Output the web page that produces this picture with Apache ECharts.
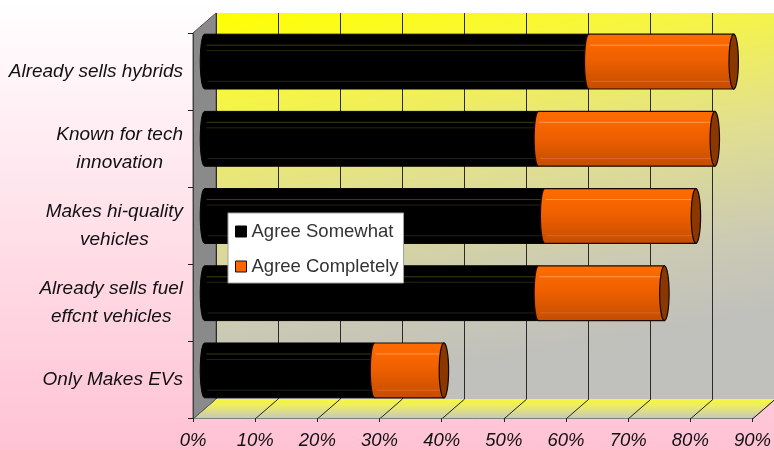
<!DOCTYPE html>
<html><head><meta charset="utf-8">
<script src="https://cdn.jsdelivr.net/npm/echarts@6/dist/echarts.min.js"></script>
<style>html,body{margin:0;padding:0;}#c{width:774px;height:450px;}</style>
</head><body><div id="c"></div>
<script>
// ---- data ----
const categories = ['Already sells hybrids', 'Known for tech\ninnovation', 'Makes hi-quality\nvehicles', 'Already sells fuel\neffcnt vehicles', 'Only Makes EVs'];
const agreeSomewhat = [61, 53, 54, 53, 27];
const agreeCompletely = [23, 28, 24, 20, 11];
const seriesNames = ['Agree Somewhat', 'Agree Completely'];
const xMin = 0, xMax = 90, xStep = 10;

// ---- layout (pixels) ----
const FONT = "'Liberation Sans', Arial, sans-serif";
const front = { left: 193, top: 33, right: 14, bottom: 31 };
const DX = 23, DY = -20;          // depth of the 3D box
const MX = 11.5, MY = -10;        // bars sit in the middle of the depth
const W = 774, H = 450;

const chart = echarts.init(document.getElementById('c'), null, { renderer: 'canvas' });

function ellipsePts(cx, cy, rx, ry, a0, a1, n) {
  const pts = [];
  for (let i = 0; i <= n; i++) {
    const a = a0 + (a1 - a0) * i / n;
    pts.push([cx + rx * Math.cos(a), cy + ry * Math.sin(a)]);
  }
  return pts;
}

function makeRender(kind) {
  return function (params, api) {
    const cat = api.value(0), s = api.value(1), e = api.value(2);
    const p0 = api.coord([s, cat]);
    const p1 = api.coord([e, cat]);
    const band = api.size([0, 1])[1];
    const h = band * 0.71;
    const cy = p0[1], t = cy - h / 2, b = cy + h / 2, ry = h / 2, rx = 4.3;
    const x0 = p0[0], x1 = p1[0];
    const bodyPts = [[x0, t], [x1, t], [x1, b]].concat(ellipsePts(x0, cy, rx, ry, Math.PI / 2, Math.PI * 1.5, 16));
    const children = [];
    if (kind === 0) {
      children.push({ type: 'polygon', shape: { points: bodyPts }, style: { fill: '#000', stroke: '#000', lineWidth: 1 } });
      children.push({ type: 'line', shape: { x1: x0 + 2, y1: t + h * 0.2, x2: x1, y2: t + h * 0.2 }, style: { stroke: '#3c3c14', lineWidth: 1 } });
      children.push({ type: 'line', shape: { x1: x0 + 2, y1: t + h * 0.3, x2: x1, y2: t + h * 0.3 }, style: { stroke: '#26260c', lineWidth: 1 } });
      children.push({ type: 'line', shape: { x1: x0 + 3, y1: t + h * 0.86, x2: x1, y2: t + h * 0.86 }, style: { stroke: '#202020', lineWidth: 1 } });
    } else {
      const grad = new echarts.graphic.LinearGradient(0, 0, 0, 1, [
        { offset: 0, color: '#ff6c00' }, { offset: 0.45, color: '#f06000' }, { offset: 1, color: '#c44c00' }]);
      children.push({ type: 'polygon', shape: { points: bodyPts }, style: { fill: grad, stroke: '#1a0a00', lineWidth: 1.2 } });
      children.push({ type: 'line', shape: { x1: x0 + 1, y1: t + h * 0.2, x2: x1 - 3, y2: t + h * 0.2 }, style: { stroke: '#ff9a50', lineWidth: 1 } });
      children.push({ type: 'line', shape: { x1: x0 + 2, y1: t + h * 0.86, x2: x1 - 3, y2: t + h * 0.86 }, style: { stroke: '#d86a30', lineWidth: 1 } });
      children.push({ type: 'polygon', shape: { points: ellipsePts(x1, cy, rx + 0.4, ry, 0, Math.PI * 2, 32) }, style: { fill: '#8a3800', stroke: '#140800', lineWidth: 1.2 } });
    }
    return { type: 'group', children: children };
  };
}

const somewhatData = categories.map((c, i) => [i, 0, agreeSomewhat[i]]);
const completelyData = categories.map((c, i) => [i, agreeSomewhat[i], agreeSomewhat[i] + agreeCompletely[i]]);

const backWallGrad = new echarts.graphic.LinearGradient(0, 0, 0.12, 1, [
  { offset: 0, color: '#ffff00' }, { offset: 0.22, color: '#f6f544' }, { offset: 0.5, color: '#e2e08e' },
  { offset: 0.8, color: '#cbcab4' }, { offset: 1, color: '#c0c0bc' }]);

const option = {
  backgroundColor: new echarts.graphic.LinearGradient(0, 0, 0, 1, [
    { offset: 0, color: '#ffffff' }, { offset: 1, color: '#ffc2d4' }]),
  animation: false,
  textStyle: { fontFamily: FONT },
  grid: [
    { left: front.left, top: front.top, right: front.right, bottom: front.bottom },
    { left: front.left + MX, top: front.top + MY, right: front.right - MX, bottom: front.bottom - MY },
    { left: front.left + DX, top: front.top + DY, right: front.right - DX, bottom: front.bottom - DY,
      show: true, backgroundColor: backWallGrad, borderWidth: 0 }
  ],
  xAxis: [
    { gridIndex: 0, type: 'value', min: xMin, max: xMax, interval: xStep,
      axisLine: { show: true, lineStyle: { color: '#808080', width: 1 } },
      axisTick: { show: true, length: 4, lineStyle: { color: '#222' } },
      splitLine: { show: false },
      axisLabel: { formatter: '{value}%', fontSize: 18.5, fontStyle: 'italic', color: '#111', margin: 13, fontFamily: FONT } },
    { gridIndex: 1, type: 'value', min: xMin, max: xMax, interval: xStep, show: false },
    { gridIndex: 2, type: 'value', min: xMin, max: xMax, interval: xStep,
      axisLine: { show: false }, axisTick: { show: false }, axisLabel: { show: false },
      splitLine: { show: true, lineStyle: { color: '#2a2a2a', width: 1 } } }
  ],
  yAxis: [
    { gridIndex: 0, type: 'category', data: categories, inverse: true,
      axisLine: { show: true, lineStyle: { color: '#404040', width: 1 } },
      axisTick: { show: true, length: 5, lineStyle: { color: '#222' } },
      axisLabel: { margin: 10, align: 'right',
        formatter: v => v.split('\n').map(l => '{c|' + l + '}').join('\n'),
        rich: { c: { align: 'center', fontSize: 19, fontStyle: 'italic', color: '#111', lineHeight: 28.5, fontFamily: FONT } } } },
    { gridIndex: 1, type: 'category', data: categories, inverse: true, show: false },
    { gridIndex: 2, type: 'category', data: categories, inverse: true, show: false }
  ],
  legend: {
    left: 228, top: 213, orient: 'vertical', icon: 'rect',
    itemWidth: 11, itemHeight: 11, itemGap: 16,
    backgroundColor: '#ffffff', borderColor: '#a0a0a0', borderWidth: 1, borderRadius: 0,
    padding: [9, 5, 7, 7],
    textStyle: { fontSize: 18.5, color: '#333', fontFamily: FONT },
    data: [
      { name: seriesNames[0], itemStyle: { color: '#000', borderColor: '#000', borderWidth: 1 } },
      { name: seriesNames[1], itemStyle: { color: '#ff6600', borderColor: '#111', borderWidth: 1 } }
    ]
  },
  series: [
    { type: 'custom', name: seriesNames[0], xAxisIndex: 1, yAxisIndex: 1, z: 3,
      itemStyle: { color: '#000' }, renderItem: makeRender(0),
      encode: { x: [1, 2], y: 0 }, data: somewhatData },
    { type: 'custom', name: seriesNames[1], xAxisIndex: 1, yAxisIndex: 1, z: 3,
      itemStyle: { color: '#ff6600' }, renderItem: makeRender(1),
      encode: { x: [1, 2], y: 0 }, data: completelyData }
  ]
};
chart.setOption(option);

// ---- 3D box decorations derived from the front axis scale ----
const yFrontBottom = H - front.bottom, yFrontTop = front.top;
const px = v => chart.convertToPixel({ xAxisIndex: 0 }, v);
const x0 = px(xMin), xN = px(xMax);
const floorGrad = new echarts.graphic.LinearGradient(0, 0, 0, 1, [
  { offset: 0, color: '#f8f838' }, { offset: 0.3, color: '#eeee60' }, { offset: 1, color: '#c6c6c0' }]);
const elements = [
  { type: 'polygon', z: -1, shape: { points: [[x0, yFrontBottom], [xN, yFrontBottom], [xN + DX, yFrontBottom + DY], [x0 + DX, yFrontBottom + DY]] },
    style: { fill: floorGrad } },
  { type: 'polygon', z: -1, shape: { points: [[x0, yFrontTop], [x0 + DX, yFrontTop + DY], [x0 + DX, yFrontBottom + DY], [x0, yFrontBottom]] },
    style: { fill: '#8a8a8a', stroke: '#555', lineWidth: 1 } },
  { type: 'line', z: -1, shape: { x1: xN, y1: yFrontBottom, x2: xN + DX, y2: yFrontBottom + DY }, style: { stroke: '#808080', lineWidth: 1 } }
];
for (let v = xMin; v <= xMax; v += xStep) {
  const x = px(v);
  elements.push({ type: 'line', z: -1, shape: { x1: x, y1: yFrontBottom, x2: x + DX, y2: yFrontBottom + DY },
    style: { stroke: v === xMin ? '#666' : '#222', lineWidth: 1 } });
}
chart.setOption({ graphic: { elements: elements } });
</script>
</body></html>
